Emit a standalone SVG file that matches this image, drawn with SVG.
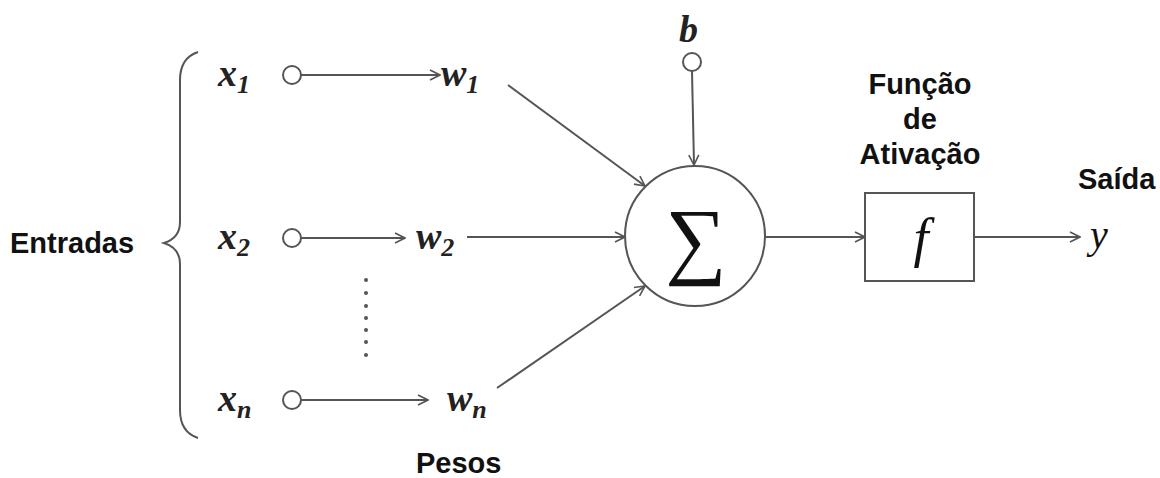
<svg xmlns="http://www.w3.org/2000/svg" width="1160" height="478" viewBox="0 0 1160 478">
<defs>
<marker id="ah" viewBox="0 0 12 12" refX="11" refY="6" markerWidth="12" markerHeight="12" markerUnits="userSpaceOnUse" orient="auto">
<path d="M1,1 L11,6 L1,11" fill="none" stroke="#555" stroke-width="1.6"/>
</marker>
</defs>
<style>
.ln{stroke:#555;stroke-width:2;fill:none}
.nd{stroke:#555;stroke-width:2;fill:#fff}
.var{font-family:"Liberation Serif",serif;font-style:italic;font-weight:bold;font-size:38px;fill:#222}
.sub{font-family:"Liberation Serif",serif;font-style:italic;font-weight:bold;font-size:26px;fill:#222}
.mth{font-family:"Liberation Serif",serif;font-style:italic;font-weight:normal;fill:#111}
.lbl{font-family:"Liberation Sans",Arial,sans-serif;font-weight:bold;font-size:29px;fill:#111}
</style>
<rect width="1160" height="478" fill="#fff"/>
<g id="brace">
<path class="ln" d="M198,52 Q180,58 180,80 L180,222 Q180,238 164,243 Q180,248 180,264 L180,410 Q180,432 198,438"/>
</g>
<g id="entradas"><text class="lbl" x="10" y="253">Entradas</text></g>
<g id="x1"><text class="var" x="218" y="86">x<tspan class="sub" dy="7">1</tspan></text><circle class="nd" cx="292" cy="75" r="9"/></g>
<g id="x2"><text class="var" x="218" y="249">x<tspan class="sub" dy="7">2</tspan></text><circle class="nd" cx="292" cy="238" r="9"/></g>
<g id="xn"><text class="var" x="218" y="411">x<tspan class="sub" dy="7">n</tspan></text><circle class="nd" cx="292" cy="400" r="9"/></g>
<g id="w1"><text class="var" x="441" y="86">w<tspan class="sub" dy="7">1</tspan></text></g>
<g id="w2"><text class="var" x="416" y="249">w<tspan class="sub" dy="7">2</tspan></text></g>
<g id="wn"><text class="var" x="447" y="411">w<tspan class="sub" dy="7">n</tspan></text></g>
<g id="dots" fill="#555">
<circle cx="366" cy="280" r="2"/><circle cx="366" cy="293" r="2"/><circle cx="366" cy="306" r="2"/><circle cx="366" cy="318" r="2"/><circle cx="366" cy="330" r="2"/><circle cx="366" cy="342" r="2"/><circle cx="366" cy="355" r="2"/>
</g>
<g id="pesos"><text class="lbl" x="416" y="473">Pesos</text></g>
<g id="b"><text class="var" x="679" y="42">b</text><circle class="nd" cx="692" cy="62" r="9"/></g>
<g id="sum"><circle class="nd" cx="695" cy="236" r="70"/><text x="696" y="268" text-anchor="middle" font-family="Liberation Serif,serif" font-size="86" fill="#111">∑</text></g>
<g id="act"><rect class="nd" x="865" y="193" width="109" height="88"/><text class="mth" x="921" y="256" font-size="54" text-anchor="middle">f</text></g>
<g id="funcao" text-anchor="middle"><text class="lbl" x="920" y="94">Função</text><text class="lbl" x="920" y="129">de</text><text class="lbl" x="920" y="164">Ativação</text></g>
<g id="saida"><text class="lbl" x="1078" y="189">Saída</text></g>
<g id="y"><text class="mth" x="1090" y="248" font-size="40">y</text></g>
<g id="connectors">
<line class="ln" x1="301" y1="75" x2="440" y2="75" marker-end="url(#ah)"/>
<line class="ln" x1="301" y1="238" x2="405" y2="238" marker-end="url(#ah)"/>
<line class="ln" x1="301" y1="400" x2="428" y2="400" marker-end="url(#ah)"/>
<line class="ln" x1="508" y1="85" x2="645" y2="186" marker-end="url(#ah)"/>
<line class="ln" x1="467" y1="237" x2="625" y2="237" marker-end="url(#ah)"/>
<line class="ln" x1="497" y1="388" x2="645" y2="286" marker-end="url(#ah)"/>
<line class="ln" x1="692" y1="71" x2="694" y2="165" marker-end="url(#ah)"/>
<line class="ln" x1="765" y1="237" x2="865" y2="237" marker-end="url(#ah)"/>
<line class="ln" x1="974" y1="237" x2="1080" y2="237" marker-end="url(#ah)"/>
</g>
</svg>
